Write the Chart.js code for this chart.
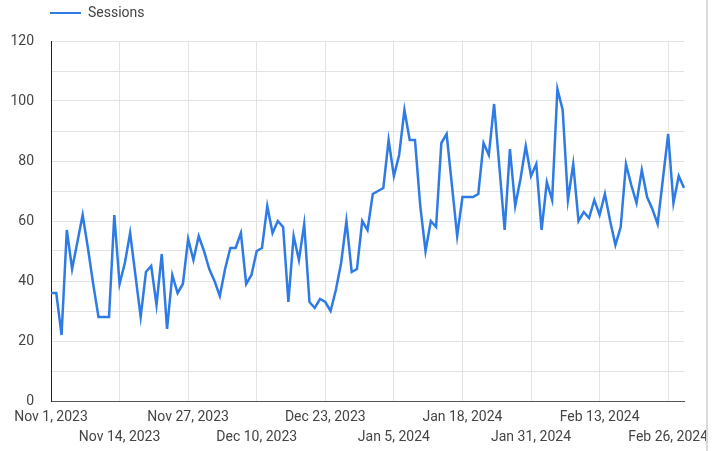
<!DOCTYPE html>
<html>
<head>
<meta charset="utf-8">
<title>Sessions</title>
<script src="https://cdn.jsdelivr.net/npm/chart.js@4.4.1/dist/chart.umd.min.js"></script>
<style>
    body { margin: 0; background: #fff; }
    #wrap { width: 722px; height: 451px; position: relative; overflow: hidden; }
    #box { width: 706px; height: 451px; border-right: 2px solid #d9d9d9; overflow: hidden; }
</style>
</head>
<body>
<div id="wrap">
    <div id="box"><canvas id="chart" width="706" height="451"></canvas></div>
</div>
<script>
// ---- data (daily sessions, Nov 1 2023 -> Feb 29 2024)
var seriesName = 'Sessions';
var startDate = new Date(2023, 10, 1);
var sessions = [
    36, 36, 22, 57, 44, 53, 62, 51, 39, 28, 28, 28, 62, 39, 46, 56, 42, 28, 43, 45,
    32, 49, 24, 42, 36, 39, 54, 47, 55, 50, 44, 40, 35, 44, 51, 51, 56, 39, 42, 50,
    51, 65, 56, 60, 58, 33, 55, 47, 59, 33, 31, 34, 33, 30, 37, 46, 60, 43, 44, 60,
    57, 69, 70, 71, 87, 75, 82, 97, 87, 87, 65, 50, 60, 58, 86, 89, 72, 55, 68, 68,
    68, 69, 86, 82, 99, 78, 57, 84, 65, 74, 85, 75, 79, 57, 73, 67, 104, 97, 67, 79,
    60, 63, 61, 67, 62, 69, 60, 52, 58, 79, 72, 66, 77, 68, 64, 59, 74, 89, 66, 75, 71
];
var tickLabels = ['Nov 1, 2023', 'Nov 14, 2023', 'Nov 27, 2023', 'Dec 10, 2023', 'Dec 23, 2023',
                  'Jan 5, 2024', 'Jan 18, 2024', 'Jan 31, 2024', 'Feb 13, 2024', 'Feb 26, 2024'];
var tickEvery = 13;
var yTicks = [0, 20, 40, 60, 80, 100, 120];

// categories = one per day
var days = [];
for (var i = 0; i < sessions.length; i++) {
    var d = new Date(startDate.getFullYear(), startDate.getMonth(), startDate.getDate() + i);
    days.push(d.toLocaleDateString('en-US', { month: 'short', day: 'numeric', year: 'numeric' }));
}

var lineColor = '#2f7be6';
var textColor = '#444444';
var gridColor = '#e3e3e3';

// legend drawn by hand (line + label) above plot
var legendPlugin = {
    id: 'miniLegend',
    afterDraw: function (chart) {
        var c = chart.ctx;
        var x = chart.chartArea.left - 1;
        c.save();
        c.strokeStyle = lineColor;
        c.lineWidth = 2;
        c.beginPath();
        c.moveTo(x, 13);
        c.lineTo(x + 31, 13);
        c.stroke();
        c.fillStyle = textColor;
        c.font = '14px Roboto';
        c.textBaseline = 'middle';
        c.fillText(seriesName, x + 38, 13);
        c.restore();
    }
};

new Chart(document.getElementById('chart'), {
    type: 'line',
    data: {
        labels: days,
        datasets: [{
            label: seriesName,
            data: sessions,
            borderColor: lineColor,
            borderWidth: 2.5,
            pointRadius: 0,
            tension: 0,
            fill: false
        }]
    },
    options: {
        responsive: false,
        animation: false,
        devicePixelRatio: 1,
        layout: { padding: { top: 41, right: 22, bottom: 0, left: 0 } },
        plugins: {
            legend: { display: false },
            tooltip: { enabled: false }
        },
        scales: {
            x: {
                offset: false,
                border: { color: '#555', width: 1 },
                grid: {
                    drawTicks: false,
                    color: function (ctx) {
                        return ctx.index % tickEvery === 0 && ctx.index > 0 ? gridColor : 'rgba(0,0,0,0)';
                    }
                },
                ticks: {
                    autoSkip: false,
                    maxRotation: 0,
                    minRotation: 0,
                    padding: 7,
                    color: textColor,
                    font: { family: 'Roboto', size: 14, lineHeight: 1.4 },
                    callback: function (val, idx) {
                        if (idx % tickEvery !== 0) return '';
                        var k = idx / tickEvery;
                        var t = tickLabels[k];
                        if (t === undefined) return '';
                        return k % 2 === 0 ? [t, ''] : ['', t];
                    }
                },
                afterFit: function (scale) { scale.height = 50; }
            },
            y: {
                min: 0,
                max: 120,
                border: { color: '#222', width: 1 },
                grid: { drawTicks: false, color: gridColor },
                ticks: {
                    stepSize: 10,
                    padding: 17,
                    color: textColor,
                    font: { family: 'Roboto', size: 14 },
                    callback: function (v) { return yTicks.indexOf(v) >= 0 ? v : ''; }
                },
                afterFit: function (scale) { scale.width = 51; }
            }
        }
    },
    plugins: [legendPlugin]
});
</script>
</body>
</html>
